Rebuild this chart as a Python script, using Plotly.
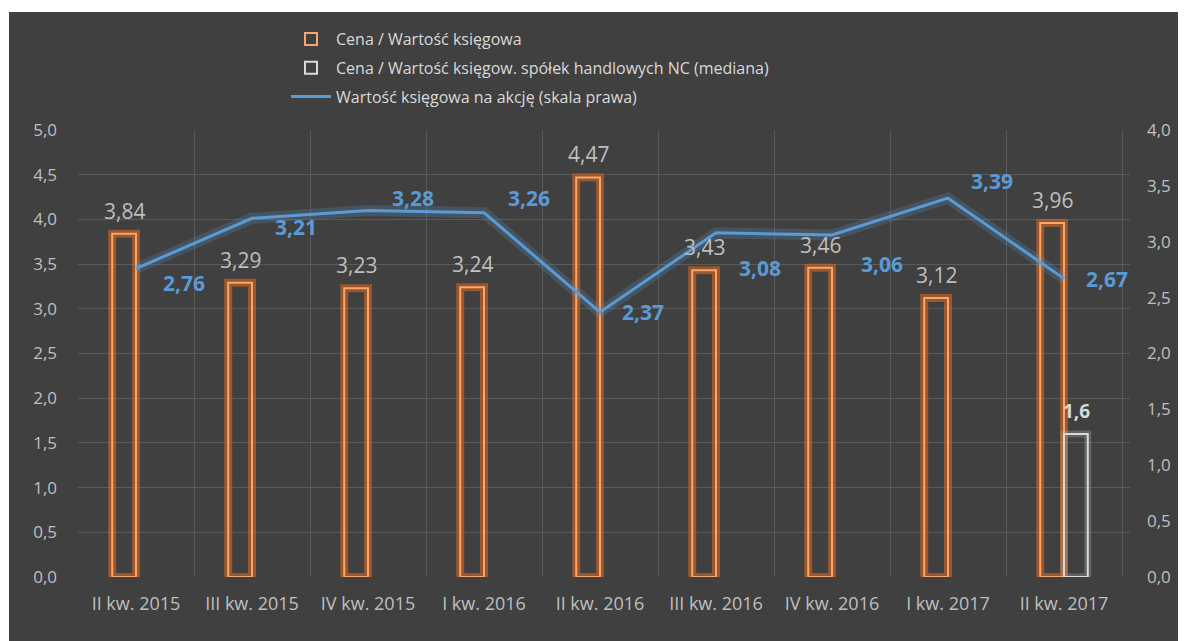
import plotly.graph_objects as go

# dane
kwartaly = ["II kw. 2015", "III kw. 2015", "IV kw. 2015", "I kw. 2016", "II kw. 2016",
            "III kw. 2016", "IV kw. 2016", "I kw. 2017", "II kw. 2017"]
cena_wk = [3.84, 3.29, 3.23, 3.24, 4.47, 3.43, 3.46, 3.12, 3.96]
cena_wk_nc = [None, None, None, None, None, None, None, None, 1.6]
wk_na_akcje = [2.76, 3.21, 3.28, 3.26, 2.37, 3.08, 3.06, 3.39, 2.67]

# przesunięcia etykiet linii (px) – ręcznie, jak w oryginale
lab_dx = [48, 44, 45, 45, 43, 44, 50, 44, 43]
lab_dy = [-14, -9, 12, 15, 0, -35, -29, 17, 0]

BG = "#404040"
GRID = "#5a5a5a"
TXT = "#bfbfbf"
BLUE = "#5b9bd5"
FONT = "Open Sans"

BAR_W = 0.205

# strona ma 8px marginesu body -> figura mniejsza, marginesy przesunięte
W, H = 1178, 633
ML, MR, MT, MB = 70, 56, 122, 64
PW, PH = W - ML - MR, H - MT - MB

fig = go.Figure()

# poświata słupków
fig.add_trace(go.Bar(
    x=kwartaly, y=cena_wk, width=BAR_W, offset=-BAR_W,
    marker=dict(color="rgba(0,0,0,0)", line=dict(color="rgba(225,105,25,0.55)", width=8)),
    showlegend=False, hoverinfo="skip",
))
fig.add_trace(go.Bar(
    x=kwartaly, y=cena_wk_nc, width=BAR_W, offset=0,
    marker=dict(color="rgba(0,0,0,0)", line=dict(color="rgba(200,200,200,0.25)", width=7)),
    showlegend=False, hoverinfo="skip",
))
fig.add_trace(go.Bar(
    x=kwartaly, y=cena_wk, width=BAR_W, offset=-BAR_W,
    name="Cena / Wartość księgowa", legendgroup="a",
    marker=dict(color="rgba(0,0,0,0)", line=dict(color="#f7a66e", width=2)),
))
fig.add_trace(go.Bar(
    x=kwartaly, y=cena_wk_nc, width=BAR_W, offset=0,
    name="Cena / Wartość księgow. spółek handlowych NC (mediana)", legendgroup="b",
    marker=dict(color="rgba(0,0,0,0)", line=dict(color="#d9d9d9", width=2)),
))

# linia + poświata
fig.add_trace(go.Scatter(
    x=kwartaly, y=wk_na_akcje, yaxis="y2", mode="lines",
    line=dict(color="rgba(91,155,213,0.22)", width=11),
    showlegend=False, hoverinfo="skip",
))
fig.add_trace(go.Scatter(
    x=kwartaly, y=wk_na_akcje, yaxis="y2", mode="lines",
    name="Wartość księgowa na akcję (skala prawa)", legendgroup="c",
    line=dict(color=BLUE, width=3),
))

ann = []
for k, v in zip(kwartaly, cena_wk):
    ann.append(dict(x=k, y=v, xref="x", yref="y", text=f"{v:.2f}".replace(".", ","),
                    showarrow=False, xanchor="center", yanchor="bottom",
                    xshift=-12, yshift=7, font=dict(size=21, color=TXT, family=FONT)))
for k, v in zip(kwartaly, cena_wk_nc):
    if v is None:
        continue
    ann.append(dict(x=k, y=v, xref="x", yref="y", text=f"<b>{v:.1f}</b>".replace(".", ","),
                    showarrow=False, xanchor="center", yanchor="bottom",
                    xshift=12, yshift=8, font=dict(size=19, color="#d9d9d9", family=FONT)))
for k, v, dx, dy in zip(kwartaly, wk_na_akcje, lab_dx, lab_dy):
    ann.append(dict(x=k, y=v, xref="x", yref="y2", text=f"<b>{v:.2f}</b>".replace(".", ","),
                    showarrow=False, xanchor="center", yanchor="middle",
                    xshift=dx, yshift=dy, font=dict(size=21, color=BLUE, family=FONT)))

fig.update_layout(
    width=W, height=H,
    margin=dict(l=ML, r=MR, t=MT, b=MB),
    paper_bgcolor="white",
    plot_bgcolor="rgba(0,0,0,0)",
    separators=", ",
    barmode="overlay",
    font=dict(family=FONT, color=TXT, size=16),
    shapes=[dict(type="rect", xref="paper", yref="paper", layer="below",
                 x0=(1 - ML) / PW, x1=1.2, y0=-0.3, y1=(H - MB - 4) / PH,
                 fillcolor=BG, line=dict(width=0))],
    annotations=ann,
    legend=dict(x=(286 - 78) / PW, y=(H - MB - 14) / PH, xanchor="left", yanchor="top",
                font=dict(size=16, color="#d9d9d9", family=FONT),
                bgcolor="rgba(0,0,0,0)", tracegroupgap=5, itemwidth=40),
    xaxis=dict(type="category", tickson="boundaries", showgrid=True, gridcolor=GRID,
               gridwidth=1, ticks="", showline=False, ticklabelstandoff=14,
               tickfont=dict(size=18, color=TXT)),
    yaxis=dict(range=[0, 5], dtick=0.5, tickformat=".1f", showgrid=True, gridcolor=GRID,
               zeroline=False, ticks="", ticklabelstandoff=20,
               tickfont=dict(size=17, color=TXT)),
    yaxis2=dict(range=[0, 4], dtick=0.5, tickformat=".1f", overlaying="y", side="right",
                showgrid=False, zeroline=False, ticks="", ticklabelstandoff=16,
                tickfont=dict(size=17, color=TXT)),
)

fig.write_html("out.html")
